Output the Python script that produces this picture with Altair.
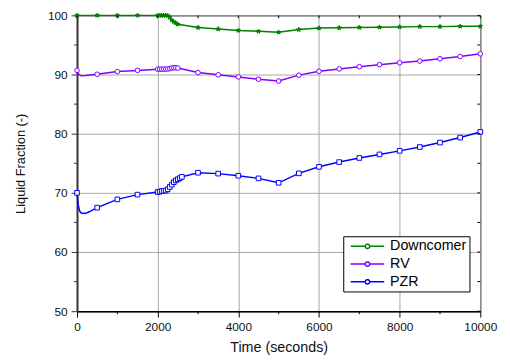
import math
import altair as alt

# ---------------- data ----------------
series_names = ["Downcomer", "RV", "PZR"]
series_colors = ["#008000", "#8000ff", "#0000ff"]
series_fills = ["#008000", "white", "white"]

dc_time = [0, 500, 1000, 1500, 2000, 2050, 2100, 2150, 2200, 2250, 2300, 2350, 2400,
           2450, 2500, 3000, 3500, 4000, 4500, 5000, 5500, 6000, 6500, 7000, 7500,
           8000, 8500, 9000, 9500, 10000]
dc_value = [100, 100, 100, 100, 100, 100, 100, 100, 100, 99.95, 99.7, 99.2, 98.9,
            98.7, 98.5, 97.95, 97.7, 97.45, 97.3, 97.15, 97.6, 97.85, 97.9, 97.95, 98.0,
            98.05, 98.1, 98.1, 98.15, 98.15]
dc_marker = [1] * len(dc_time)

rv_time = [0, 50, 100, 200, 500, 1000, 1500, 2000, 2050, 2100, 2150, 2200, 2250, 2300,
           2350, 2400, 2450, 2500, 3000, 3500, 4000, 4500, 5000, 5500, 6000, 6500,
           7000, 7500, 8000, 8500, 9000, 9500, 10000]
rv_value = [90.7, 90.0, 89.8, 89.85, 90.05, 90.5, 90.7, 90.9, 90.9, 90.9, 90.9, 90.92,
            90.95, 91.0, 91.1, 91.15, 91.15, 91.1, 90.33, 89.95, 89.6, 89.2, 88.9, 89.9,
            90.55, 90.95, 91.33, 91.67, 92.0, 92.28, 92.67, 93.05, 93.5]
rv_marker = [1, 0, 0, 0] + [1] * (len(rv_time) - 4)

pzr_time = [0, 30, 60, 100, 200, 300, 500, 1000, 1500, 2000, 2050, 2100, 2150, 2200,
            2250, 2300, 2350, 2400, 2450, 2500, 2550, 2600, 3000, 3500, 4000, 4500,
            5000, 5500, 6000, 6500, 7000, 7500, 8000, 8500, 9000, 9500, 10000]
pzr_value = [70.0, 68.0, 67.0, 66.6, 66.5, 66.8, 67.5, 68.9, 69.7, 70.15, 70.2, 70.3,
             70.35, 70.4, 70.6, 71.0, 71.4, 71.8, 72.1, 72.3, 72.5, 72.7, 73.4, 73.25,
             72.9, 72.45, 71.7, 73.3, 74.4, 75.2, 75.9, 76.5, 77.1, 77.75, 78.5, 79.35,
             80.3]
pzr_marker = [1, 0, 0, 0, 0, 0] + [1] * (len(pzr_time) - 6)

x_major = [0, 2000, 4000, 6000, 8000, 10000]
x_minor = [1000, 3000, 5000, 7000, 9000]
y_major = [50, 60, 70, 80, 90, 100]
y_minor = [55, 65, 75, 85, 95]
x_all = list(range(0, 10001, 1000))
y_all = list(range(50, 101, 5))

records = []
for name, ts, vs, ms in [("Downcomer", dc_time, dc_value, dc_marker),
                         ("RV", rv_time, rv_value, rv_marker),
                         ("PZR", pzr_time, pzr_value, pzr_marker)]:
    for t, v, m in zip(ts, vs, ms):
        records.append({"series": name, "time": t, "value": v, "marker": m})
data = alt.Data(values=records)

FONT = "Liberation Sans"


# ---------------- symbol paths (Vega has no built-in star) ----------------
def f(v):
    return f"{v:.3f}"


def poly(pts):
    return "M" + "L".join(f"{f(x)},{f(y)}" for x, y in pts) + "Z"


def star_pts(cx, ro, ri):
    out = []
    for k in range(10):
        a = math.radians(-90 + 36 * k)
        r = ro if k % 2 == 0 else ri
        out.append((cx + r * math.cos(a), r * math.sin(a)))
    return out


def circle_pts(cx, r, n=16):
    return [(cx + r * math.cos(2 * math.pi * k / n), r * math.sin(2 * math.pi * k / n))
            for k in range(n)]


STAR = poly(star_pts(0, 1.0, 0.42))
series_shapes = [STAR, "circle", "square"]

# legend symbol: line with a small open marker in the middle
L0, L1, C, R = -0.54, 6.26, 2.86, 0.45
LEGEND_SYMBOL = (f"M{f(L0)},0L{f(C - R)},0M{f(C + R)},0L{f(L1)},0"
                 + poly(circle_pts(C, R)))

legend = alt.Legend(
    title=None, orient="none", legendX=270, legendY=224,
    strokeColor="black", fillColor="white", padding=3,
    labelFont=FONT, labelFontSize=14.5, labelColor="black",
    symbolType=LEGEND_SYMBOL, symbolSize=100, symbolStrokeWidth=1.5,
    symbolFillColor="white", labelOffset=30, rowPadding=3,
)

x_scale = alt.Scale(domain=[0, 10000], nice=False, zero=False)
y_scale = alt.Scale(domain=[50, 100], nice=False, zero=False)
color_scale = alt.Scale(domain=series_names, range=series_colors)

x_axis = alt.Axis(
    values=x_major, format="d", tickSize=6,
    grid=True, gridColor="#a8a8a8", gridWidth=1,
    labelFlush=False, labelPadding=5, labelFontSize=12,
    titleFontSize=14.5, titlePadding=8, domainColor="black", domainWidth=1.5,
    tickColor="black",
)
y_axis = alt.Axis(
    values=y_major, format="d", tickSize=6,
    grid=True, gridColor="#a8a8a8", gridWidth=1,
    labelFlush=False, labelPadding=4, labelFontSize=12,
    titleFontSize=13, titlePadding=20, domainColor="#333333", domainWidth=2,
    tickColor="#333333",
)

X = alt.X("time:Q", scale=x_scale, axis=x_axis, title="Time (seconds)")
Y = alt.Y("value:Q", scale=y_scale, axis=y_axis, title="Liquid Fraction (-)")

lines = alt.Chart(data).mark_line(strokeWidth=1.5).encode(
    x=X, y=Y,
    color=alt.Color("series:N", scale=color_scale, legend=legend),
)

marker_layers = []
for name, col, fil, shp in zip(series_names, series_colors, series_fills, series_shapes):
    marker_layers.append(
        alt.Chart(data).transform_filter(
            f"datum.marker == 1 && datum.series == '{name}'"
        ).mark_point(
            opacity=1, strokeWidth=1, size=22, shape=shp, stroke=col, fill=fil, filled=True
        ).encode(x=X, y=Y)
    )


def tick_data(ts, vs):
    return alt.Data(values=[{"time": t, "value": v} for t, v in zip(ts, vs)])


# minor ticks (outward) on bottom/left, inward ticks on top/right
bottom_minor = alt.Chart(tick_data(x_minor, [50] * len(x_minor))).mark_tick(
    orient="vertical", size=3, thickness=1, color="black", yOffset=1.5, opacity=1
).encode(x=X, y=Y)
left_minor = alt.Chart(tick_data([0] * len(y_minor), y_minor)).mark_tick(
    orient="horizontal", size=3, thickness=1, color="#333333", xOffset=-1.5, opacity=1
).encode(x=X, y=Y)
top_ticks = alt.Chart(tick_data(x_all, [100] * len(x_all))).mark_tick(
    orient="vertical", size=3, thickness=1, color="black", yOffset=1.5, opacity=1
).encode(x=X, y=Y)
right_ticks = alt.Chart(tick_data([10000] * len(y_all), y_all)).mark_tick(
    orient="horizontal", size=3, thickness=1, color="black", xOffset=-1.5, opacity=1
).encode(x=X, y=Y)

chart = alt.layer(lines, *marker_layers, bottom_minor, left_minor, top_ticks,
                  right_ticks).properties(
    width=409, height=300,
    autosize=alt.AutoSizeParams(type="none"),
    padding={"left": 70, "top": 5, "right": 22, "bottom": 45},
    background="white",
).configure_view(stroke="black", strokeWidth=1).configure_axis(
    labelFont=FONT, titleFont=FONT, labelColor="#111111", titleColor="#111111",
    titleFontWeight="normal",
)

chart.save("out.html", embed_options={"renderer": "svg", "actions": False})
